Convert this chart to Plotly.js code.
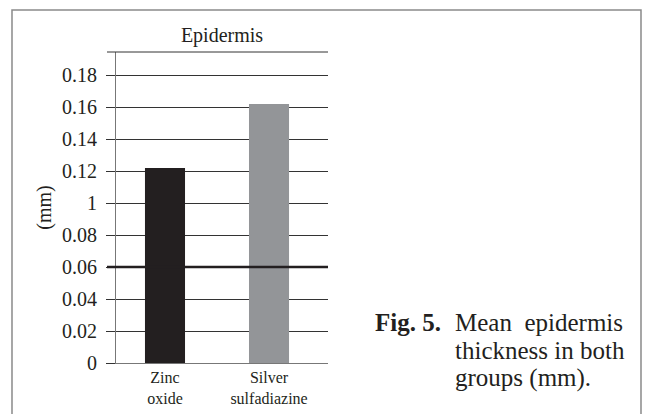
<!DOCTYPE html>
<html>
<head>
<meta charset="utf-8">
<script src="https://cdn.plot.ly/plotly-3.0.1.min.js"></script>
<style>html,body{margin:0;padding:0;background:#fff;}#chart{width:645px;height:414px;}</style>
</head>
<body>
<div id="chart"></div>
<script>
const categories = ["Zinc<br>oxide", "Silver<br>sulfadiazine"];
const values = [0.122, 0.162];
const barColors = ["#231f20", "#939598"];
const yTickVals = [0, 0.02, 0.04, 0.06, 0.08, 0.1, 0.12, 0.14, 0.16, 0.18];
const yTickText = ["0", "0.02", "0.04", "0.06", "0.08", "1", "0.12", "0.14", "0.16", "0.18"];
const refLine = [0.06];
const chartTitle = "Epidermis";
const yTitle = "(mm)";
const captionLabel = "Fig. 5.";
const captionLines = ["Mean\u00A0\u00A0epidermis", "thickness in both", "groups (mm)."];

const FONT = "'Liberation Serif', 'Times New Roman', Times, serif";
const xPos = categories.map((c, i) => i);

const trace = {
  type: "bar",
  x: xPos,
  y: values,
  width: 0.385,
  marker: {color: barColors, line: {width: 0}},
  hoverinfo: "skip"
};

const shapes = [
  {type: "line", xref: "paper", yref: "paper", x0: -9/212, x1: 1, y0: 1, y1: 1,
   line: {color: "#333", width: 1}},
  {type: "rect", xref: "paper", yref: "paper", x0: -0.4906, x1: 2.4764, y0: -0.2, y1: 1.135,
   line: {color: "#8a8a8a", width: 1.5}, fillcolor: "rgba(0,0,0,0)", layer: "below"}
];
refLine.forEach(v => shapes.push({
  type: "line", xref: "paper", yref: "y", x0: -9/212, x1: 1, y0: v, y1: v,
  line: {color: "#231f20", width: 2.5}
}));

const annotations = [
  {text: "<b>" + captionLabel + "</b>", xref: "paper", yref: "paper",
   x: (443 - 116) / 212, y: (363 - 322) / 311, xanchor: "right", yanchor: "middle",
   showarrow: false, font: {family: FONT, size: 25, color: "#231f20"}}
];
captionLines.forEach((t, i) => annotations.push({
  text: t, xref: "paper", yref: "paper",
  x: (453 - 116) / 212, y: (363 - (322 + 28 * i)) / 311, xanchor: "left", yanchor: "middle",
  showarrow: false, font: {family: FONT, size: 25, color: "#231f20"}
}));

const layout = {
  width: 645, height: 414,
  margin: {l: 116, r: 317, t: 52, b: 51, pad: 0},
  paper_bgcolor: "#fff", plot_bgcolor: "#fff",
  showlegend: false,
  font: {family: FONT, color: "#231f20"},
  title: {text: chartTitle, x: 222 / 645, xanchor: "center", y: 1 - 35 / 414, yanchor: "middle",
          font: {family: FONT, size: 20, color: "#231f20"}},
  xaxis: {
    range: [-0.471, 1.567],
    tickvals: xPos, ticktext: categories,
    tickfont: {family: FONT, size: 16, color: "#231f20"},
    showgrid: false, zeroline: false,
    showline: true, linecolor: "#777", linewidth: 1,
    ticks: "", fixedrange: true
  },
  yaxis: {
    range: [0, 0.1945],
    tickvals: yTickVals, ticktext: yTickText,
    tickfont: {family: FONT, size: 20, color: "#231f20"},
    ticklabelstandoff: 5,
    showgrid: true, gridcolor: "#333", gridwidth: 1,
    zeroline: false,
    showline: true, linecolor: "#777", linewidth: 1,
    ticks: "outside", ticklen: 9, tickcolor: "#333", tickwidth: 1,
    title: {text: yTitle, font: {family: FONT, size: 20, color: "#231f20"}, standoff: 5},
    fixedrange: true
  },
  shapes: shapes,
  annotations: annotations
};

Plotly.newPlot("chart", [trace], layout, {displayModeBar: false, staticPlot: true});
</script>
</body>
</html>
